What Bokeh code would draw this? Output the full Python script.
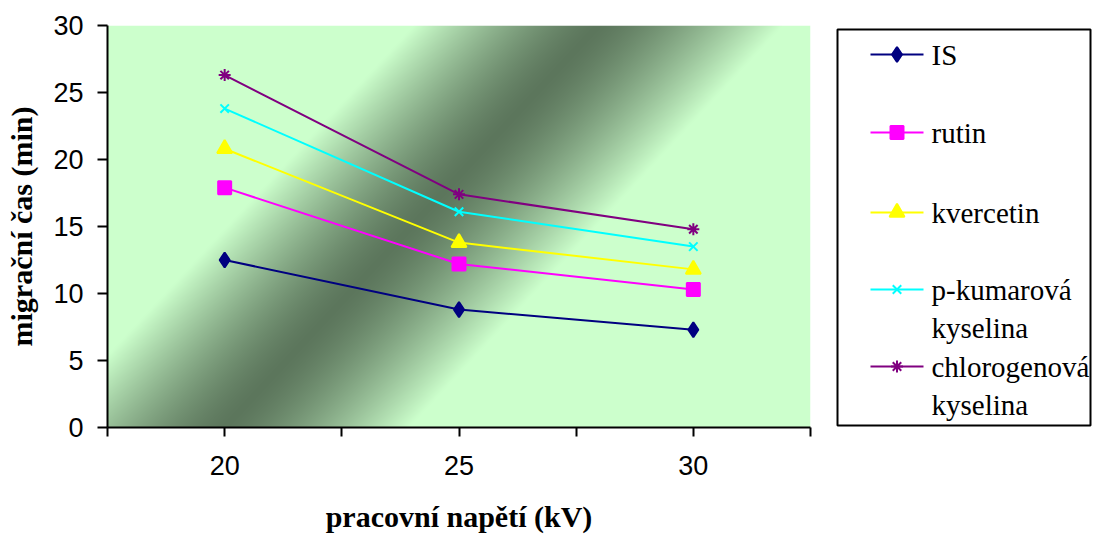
import numpy as np
from bokeh.plotting import figure
from bokeh.layouts import row
from bokeh.models import Range1d, FixedTicker
from bokeh.core.properties import value
from bokeh.embed import file_html
from bokeh.resources import INLINE

# operating voltage (kV) and migration times (min)
voltage = [20, 25, 30]
is_time = [12.5, 8.8, 7.3]
rutin_time = [17.9, 12.2, 10.3]
kvercetin_time = [20.8, 13.8, 11.8]
p_kumarova_time = [23.8, 16.1, 13.5]
chlorogenova_time = [26.3, 17.4, 14.8]

series_labels = [["IS"], ["rutin"], ["kvercetin"],
                 ["p-kumarová", "kyselina"], ["chlorogenová", "kyselina"]]
series_values = [is_time, rutin_time, kvercetin_time, p_kumarova_time, chlorogenova_time]

x_major_ticks = [20, 25, 30]
x_minor_ticks = [17.5, 22.5, 27.5, 32.5]
y_ticks = [0, 5, 10, 15, 20, 25, 30]

# styling
colors = ["#000080", "#FF00FF", "#FFFF00", "#00FFFF", "#800080"]
markers = ["diamond", "square", "triangle", "x", "asterisk"]
marker_sizes = [15, 13, 15, 12, 12]
SERIF = "Liberation Serif"
SANS = "Liberation Sans"

FRAME_L, FRAME_T, FRAME_W, FRAME_H = 107, 25, 703, 402
MAIN_W, H = 825, 538
BORDER_B = H - FRAME_T - FRAME_H

p = figure(width=MAIN_W, height=H,
           x_range=Range1d(17.5, 32.5), y_range=Range1d(0, 30),
           output_backend="svg", toolbar_location=None,
           min_border_left=FRAME_L, min_border_right=MAIN_W - FRAME_L - FRAME_W,
           min_border_top=FRAME_T, min_border_bottom=BORDER_B)
p.outline_line_color = None
p.grid.visible = False
p.background_fill_color = "white"
p.border_fill_color = "white"

# diagonal two-colour gradient of the plot area (light - dark - light)
light = np.array([204, 255, 204], dtype=float)
dark = np.array([92, 118, 92], dtype=float)
px = np.arange(FRAME_W) + 0.5 + FRAME_L
py = (FRAME_T + FRAME_H) - (np.arange(FRAME_H) + 0.5)
PX, PY = np.meshgrid(px, py)
s = ((PX - 240) * 370 + (PY - 410) * 344) / 505.0
t = np.clip(np.abs(s) / 135.0, 0, 1) ** 1.4
rgb = dark + (light - dark) * t[..., None]
img = np.empty((FRAME_H, FRAME_W), dtype=np.uint32)
view = img.view(dtype=np.uint8).reshape((FRAME_H, FRAME_W, 4))
view[..., :3] = np.round(rgb).astype(np.uint8)
view[..., 3] = 255
p.image_rgba(image=[img], x=17.5, y=0, dw=15, dh=30)

for vals, c, m, ms in zip(series_values, colors, markers, marker_sizes):
    p.line(voltage, vals, line_color=c, line_width=2)
    p.scatter(voltage, vals, marker=m, size=ms, fill_color=c, line_color=c,
              line_width=2)

# axes
for ax in (p.xaxis[0], p.yaxis[0]):
    ax.axis_line_color = "black"
    ax.axis_line_width = 2
    ax.major_tick_line_color = "black"
    ax.major_tick_line_width = 2
    ax.major_tick_in = 0
    ax.major_label_text_font = SANS
    ax.major_label_text_font_size = "27px"
    ax.major_label_text_color = "black"
    ax.axis_label_text_font = SERIF
    ax.axis_label_text_font_style = "bold"
    ax.axis_label_text_font_size = "30px"
    ax.axis_label_text_color = "black"

p.xaxis.ticker = FixedTicker(ticks=x_major_ticks, minor_ticks=x_minor_ticks)
p.xaxis.minor_tick_line_color = "black"
p.xaxis.minor_tick_line_width = 2
p.xaxis.minor_tick_in = 0
p.xaxis.minor_tick_out = 9
p.xaxis.major_tick_out = 9
p.xaxis.major_label_standoff = 19
p.xaxis.axis_label = "pracovní napětí (kV)"
p.xaxis.axis_label_standoff = 22

p.yaxis.ticker = FixedTicker(ticks=y_ticks)
p.yaxis.minor_tick_line_color = None
p.yaxis.major_tick_out = 10
p.yaxis.major_label_standoff = 14
p.yaxis.axis_label = "migrační čas (min)"
p.yaxis.axis_label_standoff = 12

# legend panel; its frame shares the main frame's top and bottom, so the
# y range is expressed in page pixels over that same span
LEG_W = 1101 - MAIN_W
lf = figure(width=LEG_W, height=H, x_range=Range1d(0, LEG_W),
            y_range=Range1d(FRAME_T + FRAME_H, FRAME_T),
            output_backend="svg", toolbar_location=None,
            min_border_left=0, min_border_right=0,
            min_border_top=FRAME_T, min_border_bottom=BORDER_B,
            x_axis_type=None, y_axis_type=None)
lf.outline_line_color = None
lf.grid.visible = False
lf.background_fill_color = "white"
lf.border_fill_color = "white"

lf.quad(left=12, right=265, top=29, bottom=425, fill_color="white",
        line_color="black", line_width=2)
row_y = [54, 132, 212, 289, 366]
line_gap = 38
for lab, c, m, ms, y in zip(series_labels, colors, markers, marker_sizes, row_y):
    lf.line([45, 98], [y, y], line_color=c, line_width=2)
    lf.scatter([71.5], [y], marker=m, size=ms, fill_color=c, line_color=c, line_width=2)
    lf.text(x=[106] * len(lab), y=[y + j * line_gap for j in range(len(lab))], text=lab,
            text_font=value(SERIF), text_font_size="29px", text_color="black",
            text_baseline="middle", text_align="left")

layout = row(p, lf)
open("out.html", "w").write(file_html(layout, INLINE))
